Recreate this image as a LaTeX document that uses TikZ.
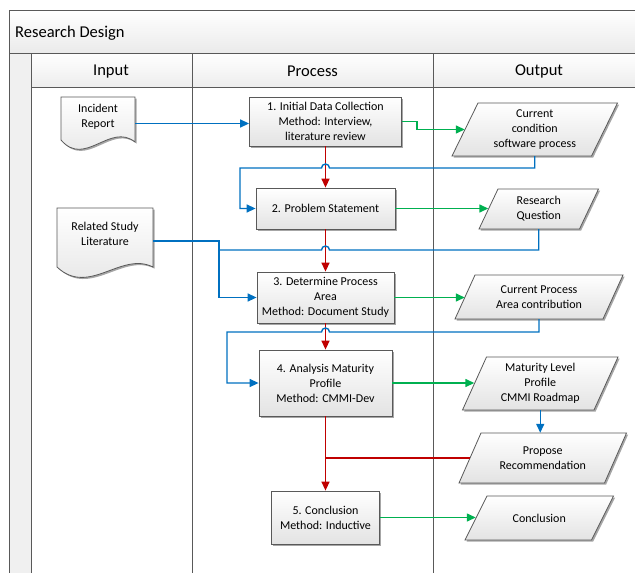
\documentclass[tikz,border=0pt]{standalone}
\usepackage{fontspec}
\setmainfont{Carlito}
\usetikzlibrary{arrows.meta,shadows,calc}
\definecolor{lnblue}{HTML}{0070C0}
\definecolor{lnred}{HTML}{C00000}
\definecolor{lngreen}{HTML}{00B050}
\definecolor{frm}{HTML}{595959}
\begin{document}
\begin{tikzpicture}[x=1pt,y=-1pt,
  shp/.style={draw=frm, line width=0.8pt, top color=white, bottom color=gray!22,
    drop shadow={shadow xshift=1.6pt,shadow yshift=-1.6pt,fill=black,opacity=0.35}},
  box/.style={shp, align=center, font=\fontsize{12}{15}\selectfont, inner sep=2pt},
  lbl/.style={align=center, font=\fontsize{12}{15}\selectfont, inner sep=0pt},
  wire/.style={line width=1.4pt},
  conn/.style={wire, -{Triangle[length=9pt,width=8pt]}},
  frameline/.style={draw=frm, line width=0.9pt},
  hdr/.style={font=\fontsize{16.5}{20}\selectfont, inner sep=0pt}]
\useasboundingbox (0,0) rectangle (635,573);
\clip (0,0) rectangle (635,573);
% ---- swimlane frame
\fill[top color=white, bottom color=gray!16] (9,10) rectangle (645,53);
\fill[top color=white, bottom color=gray!14] (31,53) rectangle (645,87);
\fill[gray!12] (9,53) rectangle (31,585);
\draw[frameline] (9,585) -- (9,10) -- (645,10);
\draw[frameline] (9,53) -- (645,53);
\draw[frameline] (31,87) -- (645,87);
\draw[frameline] (31,53) -- (31,585);
\draw[frameline] (192,53) -- (192,585);
\draw[frameline] (433,53) -- (433,585);
\node[hdr, anchor=west] (ttl) at (15,33.5) {Research Design};
\node[hdr] (hin) at (111,71.5) {Input};
\node[hdr] (hpr) at (312.5,71.5) {Process};
\node[hdr] (hout) at (539,71.5) {Output};
% ---- document shapes
\path[shp] (61,97) -- (135,97) -- (135,142) .. controls (110,122) and (85,168) .. (61,140) -- cycle;
\path[shp] (57,208) -- (153,208) -- (153,267) .. controls (121,251) and (89,297) .. (57,267) -- cycle;
% ---- parallelograms
\path[shp] (478,103) -- (617.5,103) -- (591.5,156) -- (452,156) -- cycle;
\path[shp] (498,189) -- (598.5,189) -- (579.5,229) -- (479,229) -- cycle;
\path[shp] (475,275) -- (623,275) -- (603,319) -- (455,319) -- cycle;
\path[shp] (486.5,357) -- (618,357) -- (594,410) -- (462.5,410) -- cycle;
\path[shp] (481,433) -- (626.5,433) -- (604.5,483) -- (459,483) -- cycle;
\path[shp] (487,496) -- (613.5,496) -- (591.5,540) -- (465,540) -- cycle;
% ---- nodes
\node[lbl, minimum width=74pt, minimum height=40pt] (IR) at (98,117) {Incident\\Report};
\node[lbl, minimum width=96pt, minimum height=52pt] (RSL) at (105,234) {Related Study\\Literature};
\node[box, minimum width=152pt, minimum height=49pt] (B1) at (325.5,121.5) {1. Initial Data Collection\\Method: Interview,\\literature review};
\node[box, minimum width=139pt, minimum height=41pt] (B2) at (325.5,208.5) {2. Problem Statement};
\node[box, minimum width=137pt, minimum height=51pt] (B3) at (325.5,297.5) {3. Determine Process\\Area\\Method: Document Study};
\node[box, minimum width=133pt, minimum height=66pt] (B4) at (325.5,383) {4. Analysis Maturity\\Profile\\Method: CMMI-Dev};
\node[box, minimum width=108pt, minimum height=53pt] (B5) at (325.5,517.5) {5. Conclusion\\Method: Inductive};
\node[lbl, minimum width=139.5pt, minimum height=53pt] (CC) at (534.75,129.5) {Current\\condition\\software process};
\node[lbl, minimum width=100.5pt, minimum height=40pt] (RQ) at (538.75,209) {Research\\Question};
\node[lbl, minimum width=148pt, minimum height=44pt] (CPA) at (539,297) {Current Process\\Area contribution};
\node[lbl, minimum width=131.5pt, minimum height=53pt] (ML) at (540.25,383.5) {Maturity Level\\Profile\\CMMI Roadmap};
\node[lbl, minimum width=145.5pt, minimum height=50pt] (PR) at (542.75,458) {Propose\\Recommendation};
\node[lbl, minimum width=126.5pt, minimum height=44pt] (Co) at (539.25,518) {Conclusion};
% ---- bend / hop coordinates
\coordinate (h1) at (329.5,168);
\coordinate (k1) at (240,168);
\coordinate (h2) at (329.5,250);
\coordinate (j2) at (219,250);
\coordinate (h3) at (329.5,332);
\coordinate (k3) at (227,332);
% ---- connectors: red (process flow)
\draw[conn, lnred] (B1.south) -- (B2.north);
\draw[conn, lnred] (B2.south) -- (B3.north);
\draw[conn, lnred] (B3.south) -- (B4.north);
\draw[conn, lnred] (B4.south) -- (B5.north);
\draw[wire, lnred] (PR.west) -- (PR.west -| B4.south);
% ---- connectors: green (outputs)
\draw[conn, lngreen] (B1.east) -- ++(15,0) |- (CC.west);
\draw[conn, lngreen] (B2.east) -- (B2.east -| RQ.west);
\draw[conn, lngreen] (B3.east) -- (B3.east -| CPA.west);
\draw[conn, lngreen] (B4.east) -- (B4.east -| ML.west);
\draw[conn, lngreen] (B5.east) -- (B5.east -| Co.west);
% ---- connectors: blue (inputs / feedback)
\draw[conn, lnblue] ([yshift=-6.5pt]IR.east) -- ([yshift=-6.5pt]IR.east -| B1.west);
\draw[conn, lnblue] (CC.south) |- (h1) arc[start angle=0,end angle=180,radius=4pt] -- (k1) |- (B2.west);
\draw[wire, lnblue] (RQ.south) |- (h2) arc[start angle=0,end angle=180,radius=4pt] -- (j2);
\draw[conn, lnblue] ([yshift=-7pt]RSL.east) -| (j2) |- (B3.west);
\draw[conn, lnblue] (CPA.south) |- (h3) arc[start angle=0,end angle=180,radius=4pt] -- (k3) |- (B4.west);
\draw[conn, lnblue] (ML.south) -- (ML.south |- PR.north);
\end{tikzpicture}
\end{document}
